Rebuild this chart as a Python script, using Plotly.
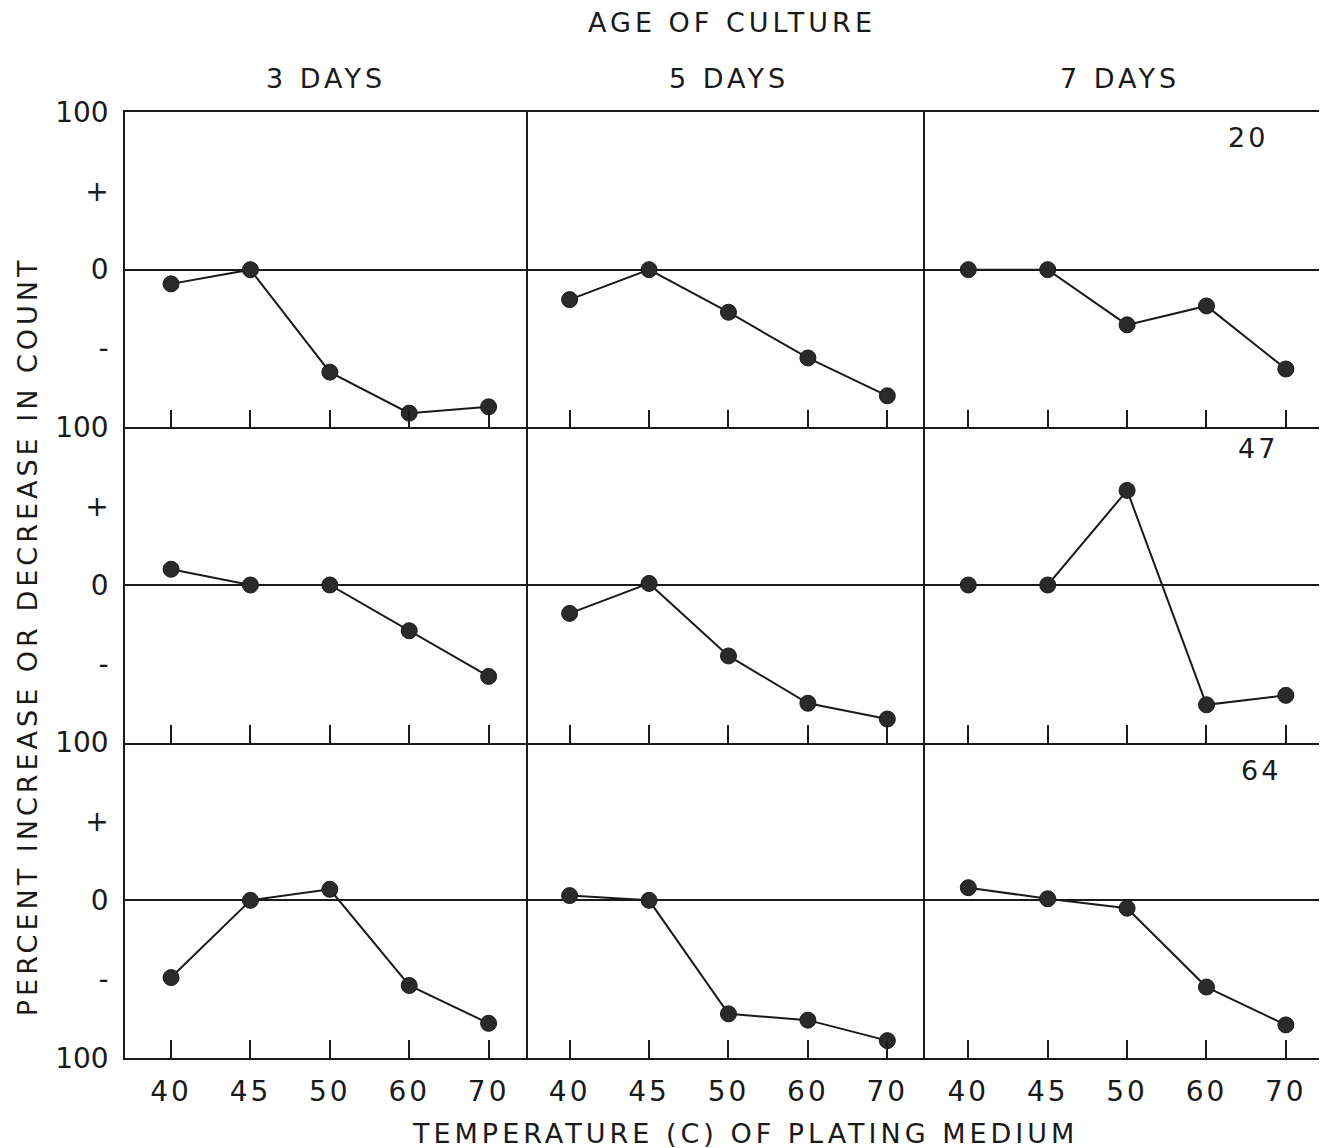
import plotly.graph_objects as go

# ---------------- data ----------------
temps = ["40", "45", "50", "60", "70"]
ages = ["3 DAYS", "5 DAYS", "7 DAYS"]
strains = ["20", "47", "64"]

s20_3d = [-9, 0, -65, -91, -87]
s20_5d = [-19, 0, -27, -56, -80]
s20_7d = [0, 0, -35, -23, -63]

s47_3d = [10, 0, 0, -29, -58]
s47_5d = [-18, 1, -45, -75, -85]
s47_7d = [0, 0, 60, -76, -70]

s64_3d = [-49, 0, 7, -54, -78]
s64_5d = [3, 0, -72, -76, -89]
s64_7d = [8, 1, -5, -55, -79]

ytick_vals = [-100, -50, 0, 50, 100]
ytick_text = ["100", "-", "0", "+", "100"]

grid = [[s20_3d, s20_5d, s20_7d],
        [s47_3d, s47_5d, s47_7d],
        [s64_3d, s64_5d, s64_7d]]

# ---------------- layout geometry ----------------
OFF = 8  # page body margin
W, H = 1327 - OFF, 1148 - OFF
ML, MR, MT, MB = 125 - OFF, 5, 112 - OFF, 1148 - 1058
PW, PH = W - ML - MR, H - MT - MB
FONT = "DejaVu Sans"
INK = "#1a1a1a"

col_edges_px = [125, 529, 926, 1322]
col_ranges = [[-0.58, 4.50], [-0.52, 4.47], [-0.55, 4.43]]


def sp(text, ls=4):
    return f'<span style="letter-spacing:{ls}px">{text}</span>'


def px2paper(x, y):
    # x, y given in screen pixels
    return (x - OFF - ML) / PW, 1 - (y - OFF - MT) / PH


fig = go.Figure()
xpos = list(range(len(temps)))

for r in range(3):
    for c in range(3):
        k = r * 3 + c + 1
        xa = "x" if k == 1 else f"x{k}"
        ya = "y" if k == 1 else f"y{k}"
        fig.add_trace(go.Scatter(
            x=xpos, y=grid[r][c], xaxis=xa, yaxis=ya, mode="lines+markers",
            line=dict(color=INK, width=2),
            marker=dict(color="#2a2a2a", size=16, line=dict(color=INK, width=1)),
            showlegend=False, cliponaxis=False, hoverinfo="skip"))

        xd = [max(0, (col_edges_px[c] - 125) / PW), min(1, (col_edges_px[c + 1] - 125) / PW)]
        yd = [1 - (r + 1) / 3, 1 - r / 3]
        xkey = "xaxis" if k == 1 else f"xaxis{k}"
        ykey = "yaxis" if k == 1 else f"yaxis{k}"
        fig.layout[xkey] = dict(
            domain=xd, anchor=ya, range=col_ranges[c],
            tickmode="array", tickvals=xpos, ticktext=[sp(t, 3) for t in temps],
            showticklabels=(r == 2), ticks="inside", ticklen=18, tickwidth=1.5,
            tickcolor=INK, showline=True, mirror=(r == 0), linecolor=INK, linewidth=1.5,
            showgrid=False, zeroline=False, ticklabelstandoff=8,
            tickfont=dict(family=FONT, size=28, color=INK))
        if c == 0:
            tv = ytick_vals if r == 0 else ytick_vals[:-1]
            tt = ytick_text if r == 0 else ytick_text[:-1]
        else:
            tv, tt = [], []
        fig.layout[ykey] = dict(
            domain=yd, anchor=xa, range=[-100, 100],
            tickmode="array", tickvals=tv, ticktext=tt,
            showticklabels=(c == 0), ticks="", showline=True, mirror=(c == 2),
            linecolor=INK, linewidth=1.5, showgrid=False,
            zeroline=True, zerolinecolor=INK, zerolinewidth=1.5,
            ticklabelstandoff=9,
            tickfont=dict(family=FONT, size=28, color=INK))

annotations = []


def add_text(text, x, y, size=27, angle=0, ls=4):
    px, py = px2paper(x, y)
    annotations.append(dict(text=sp(text, ls), x=px, y=py, xref="paper", yref="paper",
                            showarrow=False, textangle=angle,
                            font=dict(family=FONT, size=size, color=INK),
                            xanchor="center", yanchor="middle"))


add_text("AGE OF CULTURE", 733, 22)
for txt, cx in zip(ages, [326, 730, 1122]):
    add_text(txt, cx, 78)
for txt, (cx, cy) in zip(strains, [(1250, 138), (1260, 448), (1263, 770)]):
    add_text(txt, cx, cy, ls=3)
add_text("TEMPERATURE (C) OF PLATING MEDIUM", 746, 1133)
add_text("PERCENT INCREASE OR DECREASE IN COUNT", 27, 636, angle=-90)

fig.update_layout(
    width=W, height=H, margin=dict(l=ML, r=MR, t=MT, b=MB),
    paper_bgcolor="white", plot_bgcolor="white",
    annotations=annotations, showlegend=False)

fig.write_html("out.html")
